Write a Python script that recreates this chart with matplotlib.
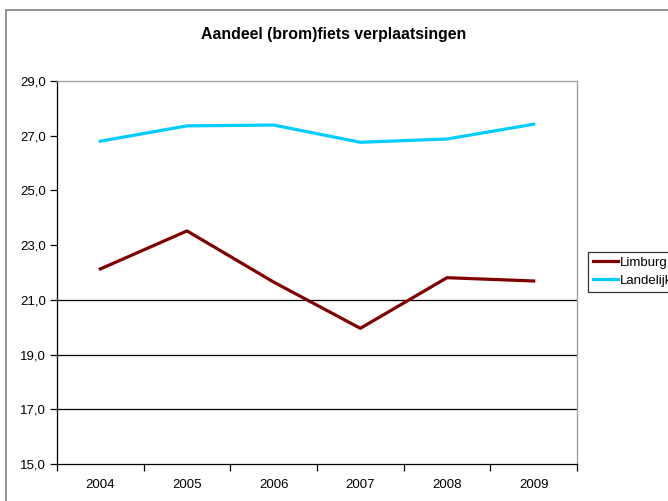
import matplotlib
matplotlib.use("Agg")
import matplotlib.pyplot as plt
import matplotlib.patches as patches
from matplotlib.ticker import FuncFormatter, FixedLocator

plt.rcParams["font.family"] = ["Liberation Sans", "DejaVu Sans"]

# ─── DATA ─────────────────────────────────────────────────────────────────────
years     = ["2004", "2005", "2006", "2007", "2008", "2009"]
limburg   = [22.13, 23.52, 21.65, 19.96, 21.81, 21.69]
landelijk = [26.80, 27.36, 27.39, 26.76, 26.88, 27.42]
y_ticks   = [15, 17, 19, 21, 23, 25, 27, 29]
grid_levels = [17, 19, 21]   # only these show a gridline in the original

fig = plt.figure(figsize=(6.68, 5.01), dpi=100)
fig.patch.set_facecolor("white")

# chart-area border (clipped by the image edge on right and bottom)
fig.patches.append(patches.Rectangle((6 / 668, -0.1), 1.2, 1 - 10 / 501 + 0.1,
                                     transform=fig.transFigure, fill=False,
                                     edgecolor="#808080", linewidth=1.2))

ax = fig.add_axes([57 / 668, 1 - 464 / 501, 520 / 668, 383 / 501])

x = list(range(len(years)))
for lvl in grid_levels:
    ax.axhline(lvl, color="black", linewidth=0.9, zorder=1)

ax.plot(x, limburg, color="#800000", linewidth=2.3, label="Limburg", zorder=3)
ax.plot(x, landelijk, color="#00CCFF", linewidth=2.3, label="Landelijk", zorder=3)

ax.set_xlim(-0.5, len(years) - 0.5)
ax.set_ylim(15, 29)
ax.yaxis.set_major_locator(FixedLocator(y_ticks))
ax.yaxis.set_major_formatter(FuncFormatter(lambda v, p: f"{v:.1f}".replace(".", ",")))

ax.set_xticks(x)
ax.set_xticklabels(years)
ax.tick_params(axis="x", which="major", length=0, pad=11, labelsize=9.5)
ax.set_xticks([i - 0.5 for i in range(len(years) + 1)], minor=True)
ax.tick_params(axis="x", which="minor", length=5, width=0.9, direction="out")
ax.tick_params(axis="y", length=5, width=0.9, direction="out", labelsize=9.5, pad=3)

for s in ["left", "bottom"]:
    ax.spines[s].set_color("black")
    ax.spines[s].set_linewidth(0.9)
for s in ["top", "right"]:
    ax.spines[s].set_color("#a0a0a0")
    ax.spines[s].set_linewidth(1.0)

fig.text(0.5, 1 - 35 / 501, "Aandeel (brom)fiets verplaatsingen",
         ha="center", va="center", fontsize=11.4, fontweight="bold")

leg = fig.legend(loc="upper left", bbox_to_anchor=(588 / 668, 1 - 252 / 501),
                 frameon=True, fancybox=False, fontsize=9.5, handlelength=1.9,
                 handletextpad=0.15, borderpad=0.35, labelspacing=0.45,
                 borderaxespad=0)
leg.get_frame().set_edgecolor("black")
leg.get_frame().set_linewidth(0.9)

fig.savefig("out.png", dpi=100)
